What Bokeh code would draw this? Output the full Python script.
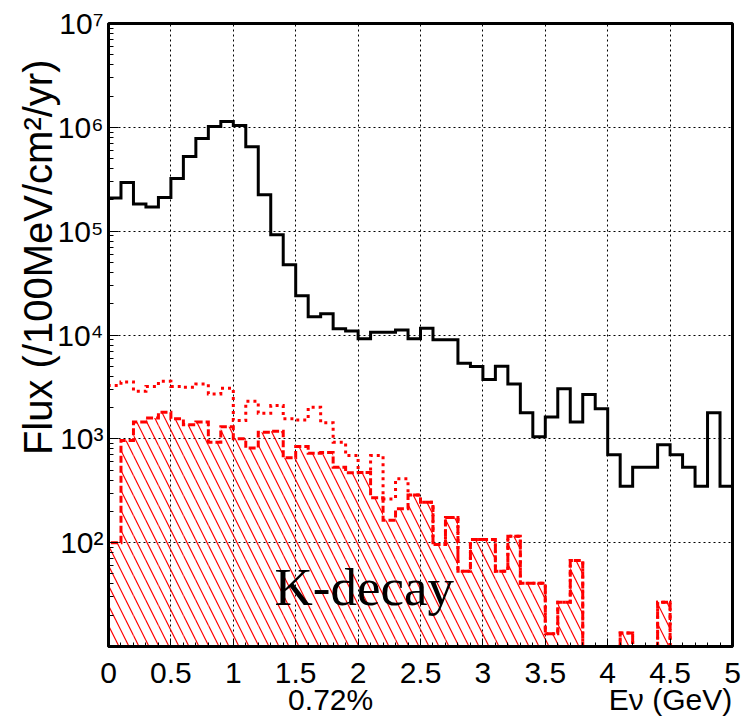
import numpy as np
from bokeh.plotting import figure
from bokeh.models import FixedTicker, Label, Range1d, LinearAxis, Title
from bokeh.embed import file_html
from bokeh.resources import INLINE

# ---- data -------------------------------------------------------------
# neutrino energy bin edges, 0.1 GeV wide (GeV)
bin_edges = [round(0.1 * i, 1) for i in range(51)]

# total flux per bin (/100MeV/cm^2/yr)
flux_total = [
    2.09e5, 2.95e5, 1.83e5, 1.71e5, 2.11e5, 3.22e5, 5.25e5, 7.8e5, 1.02e6, 1.14e6,
    1.04e6, 6.5e5, 2.24e5, 9.25e4, 4.76e4, 2.39e4, 1.5e4, 1.6e4, 1.15e4, 1.09e4,
    9.2e3, 1.06e4, 1.06e4, 1.12e4, 9.2e3, 1.16e4, 9.0e3, 9.0e3, 5.35e3, 4.97e3,
    3.72e3, 5.0e3, 3.38e3, 1.78e3, 1.05e3, 1.62e3, 3.03e3, 1.45e3, 2.67e3, 1.95e3,
    702, 350, 533, 533, 875, 702, 533, 350, 1.78e3, 350,
]

# kaon-decay component, dotted outline
flux_kdecay_dotted = [
    3.26e3, 3.53e3, 2.87e3, 3.2e3, 3.58e3, 3.2e3, 3.14e3, 3.38e3, 2.71e3, 3.07e3,
    1.5e3, 2.3e3, 1.76e3, 2.09e3, 1.56e3, 1.52e3, 2.01e3, 1.43e3, 927, 690,
    475, 690, 264, 412, 288, 245, 96, 175, 53, 107,
    107, 53, 115, 40.7, 40.7, 13.3, 26.7, 67.5, 0, 0,
    0, 13.5, 0, 0, 26.7, 0, 0, 0, 0, 0,
]

# kaon-decay component, hatched
flux_kdecay_hatched = [
    100, 964, 1.45e3, 1.59e3, 1.8e3, 1.56e3, 1.37e3, 1.45e3, 927, 1.31e3,
    1.0e3, 818, 1.16e3, 1.18e3, 656, 843, 728, 738, 533, 471,
    475, 271, 164, 212, 288, 245, 96, 175, 53, 107,
    107, 53, 115, 40.7, 40.7, 13.3, 26.7, 67.5, 0, 0,
    0, 13.5, 0, 0, 26.7, 0, 0, 0, 0, 0,
]

x_ticks = [0, 0.5, 1, 1.5, 2, 2.5, 3, 3.5, 4, 4.5, 5]
x_tick_labels = ["0", "0.5", "1", "1.5", "2", "2.5", "3", "3.5", "4", "4.5", "5"]
y_decades = [10.0 ** k for k in range(1, 8)]
y_tick_labels = ["", "10\u00b2", "10\u00b3", "10\u2074", "10\u2075", "10\u2076", "10\u2077"]

FLOOR = 1.0  # below the visible range: empty bins fall out of view


def step_outline(edges, vals, closed=True):
    xs, ys = [], []
    if closed:
        xs.append(edges[0]); ys.append(FLOOR)
    for i, v in enumerate(vals):
        v = v if v > 0 else FLOOR
        xs += [edges[i], edges[i + 1]]
        ys += [v, v]
    if closed:
        xs.append(edges[-1]); ys.append(FLOOR)
    return xs, ys


SANS = "Liberation Sans"

p = figure(
    width=742, height=722,
    x_range=Range1d(0, 5), y_range=Range1d(10, 1e7),
    y_axis_type="log",
    output_backend="svg", toolbar_location=None,
    min_border_left=108, min_border_right=10,
    min_border_top=23, min_border_bottom=76,
    background_fill_color="white", border_fill_color="white",
)

p.outline_line_color = "black"
p.outline_line_width = 3

# axes -----------------------------------------------------------------
minor_x = [round(0.1 * i, 1) for i in range(51) if i % 5]
p.xaxis.ticker = FixedTicker(ticks=x_ticks, minor_ticks=minor_x)
p.xaxis.major_label_overrides = {t: s for t, s in zip(x_ticks, x_tick_labels)}
p.xaxis.major_label_standoff = 16

minor_y = [m * 10.0 ** k for k in range(1, 7) for m in range(2, 10)]
p.yaxis.ticker = FixedTicker(ticks=y_decades, minor_ticks=minor_y)
p.yaxis.major_label_overrides = {d: s for d, s in zip(y_decades, y_tick_labels)}
p.yaxis.major_label_standoff = 5

for ax in (p.xaxis[0], p.yaxis[0]):
    ax.axis_line_width = 3
    ax.axis_line_color = "black"
    ax.major_tick_out = 0
    ax.minor_tick_out = 0
    ax.major_tick_line_color = "black"
    ax.minor_tick_line_color = "black"
    ax.major_tick_line_width = 1
    ax.minor_tick_line_width = 1
    ax.major_label_text_font = SANS
    ax.major_label_text_font_size = "30px"
    ax.major_label_text_color = "black"
p.xaxis.major_tick_in = 8
p.xaxis.minor_tick_in = 4
p.yaxis.major_tick_in = 10
p.yaxis.minor_tick_in = 5

# second row under the energy axis: fraction read-out and axis title
caption_x = [1.78, 4.503]
caption_text = ["0.72%", "E\u03bd (GeV)"]
cap_axis = LinearAxis(
    ticker=FixedTicker(ticks=caption_x, minor_ticks=[]),
    major_label_overrides={x: s for x, s in zip(caption_x, caption_text)},
    axis_line_color=None, major_tick_line_color=None, minor_tick_line_color=None,
    major_label_standoff=-9, major_label_text_font=SANS,
    major_label_text_font_size="30px", major_label_text_color="black",
)
p.add_layout(cap_axis, "below")

# vertical axis title
p.add_layout(Title(text="Flux (/100MeV/cm\u00b2/yr)", align="right", offset=36,
                   standoff=-11, text_font=SANS, text_font_size="40px",
                   text_font_style="normal", text_color="black"), "left")

for g in (p.xgrid[0], p.ygrid[0]):
    g.grid_line_color = "black"
    g.grid_line_width = 1
    g.grid_line_dash = "2 3"

# histograms -------------------------------------------------------------
left = [bin_edges[i] for i, v in enumerate(flux_kdecay_hatched) if v > 0]
right = [bin_edges[i + 1] for i, v in enumerate(flux_kdecay_hatched) if v > 0]
top = [v for v in flux_kdecay_hatched if v > 0]
p.quad(left=left, right=right, bottom=FLOOR, top=top,
       fill_color=None, line_color=None,
       hatch_pattern="\\", hatch_color="red", hatch_weight=1.2, hatch_scale=20)

hx, hy = step_outline(bin_edges, flux_kdecay_hatched)
p.line(hx, hy, line_color="red", line_width=3, line_dash="7 3", line_join="miter")

dx, dy = step_outline(bin_edges, flux_kdecay_dotted)
p.line(dx, dy, line_color="red", line_width=3, line_dash="3 4", line_join="miter")

tx, ty = step_outline(bin_edges, flux_total, closed=False)
p.line(tx, ty, line_color="black", line_width=3, line_join="miter")

p.add_layout(Label(x=1.33, y=23.9, y_offset=20, text="K-decay", text_align="left",
                   text_baseline="alphabetic", text_font="Liberation Serif",
                   text_font_size="53px", text_color="black"))

open("out.html", "w").write(file_html(p, INLINE))
